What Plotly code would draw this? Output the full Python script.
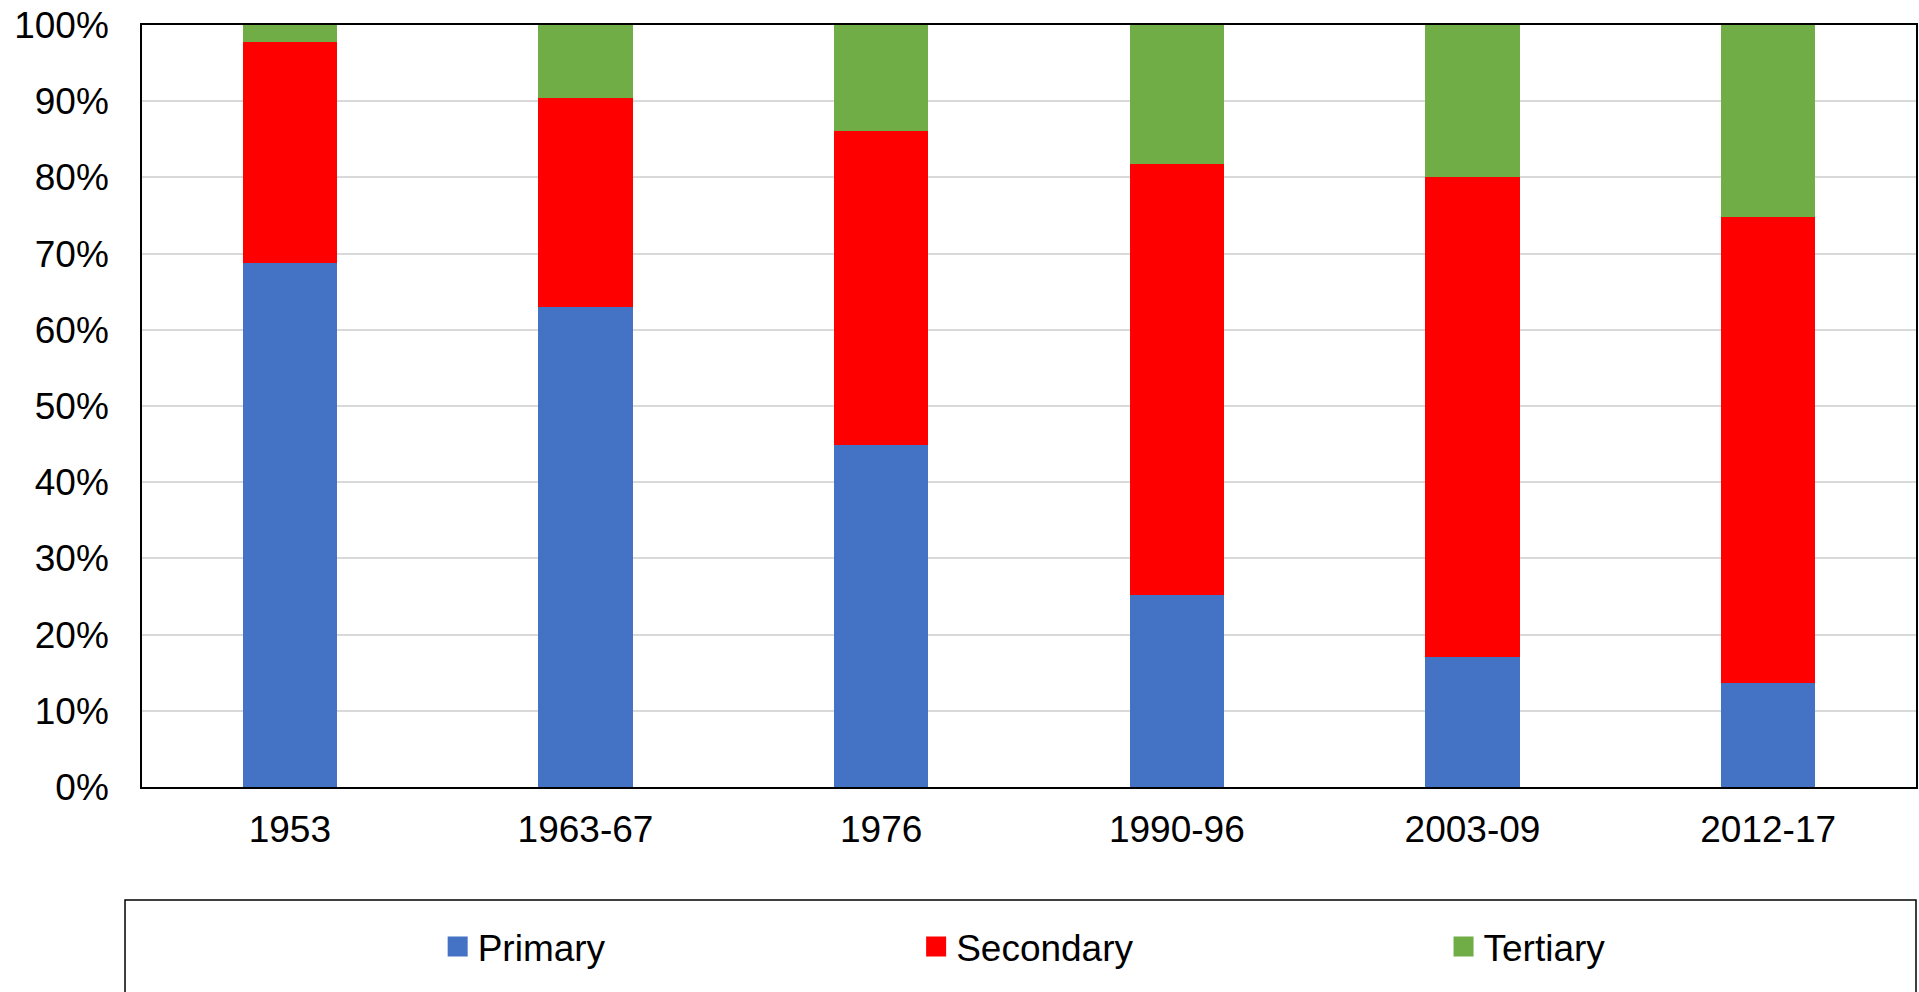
import plotly.graph_objects as go

categories = ["1953", "1963-67", "1976", "1990-96", "2003-09", "2012-17"]
primary = [68.8, 63.0, 44.9, 25.2, 17.0, 13.6]
secondary = [29.0, 27.4, 41.2, 56.5, 63.0, 61.2]
tertiary = [2.2, 9.6, 13.9, 18.3, 20.0, 25.2]
series_names = ["Primary", "Secondary", "Tertiary"]
series_colors = ["#4472C4", "#FF0000", "#70AD47"]
y_ticks = [0, 10, 20, 30, 40, 50, 60, 70, 80, 90, 100]
y_tick_labels = [f"{v}%" for v in y_ticks]

W, H = 1919, 992
L, R, T, B = 142, 1, 25, 205
pw = W - L - R
ph = H - T - B

FONT = "Liberation Sans, Arial, sans-serif"
FS = 37

fig = go.Figure()
values = [primary, secondary, tertiary]
for name, vals, col in zip(series_names, values, series_colors):
    fig.add_trace(go.Bar(
        x=categories, y=vals, name=name, marker_color=col,
        marker_line_width=0, showlegend=False, legendgroup=name,
    ))

# legend entries (one legend each, positioned like the original)
legend_sym_px = [458, 937, 1465]
legend_ids = ["legend", "legend2", "legend3"]
for name, col, lid in zip(series_names, series_colors, legend_ids):
    fig.add_trace(go.Scatter(
        x=[None], y=[None], mode="markers", name=name, legendgroup=name,
        marker=dict(symbol="square", size=16, color=col, line=dict(color=col, width=4)),
        showlegend=True, legend=lid, hoverinfo="skip",
    ))

legend_y = -(947 - (H - B)) / ph
layout_legends = {}
for sx, lid in zip(legend_sym_px, legend_ids):
    layout_legends[lid] = dict(
        x=(sx - 20 - L) / pw, xanchor="left", y=legend_y, yanchor="middle",
        orientation="h", bgcolor="rgba(0,0,0,0)", borderwidth=0,
        font=dict(family=FONT, size=FS, color="#000000"),
    )

fig.update_layout(
    width=W, height=H,
    margin=dict(l=L, r=R, t=T, b=B, pad=0),
    barmode="stack", bargap=0.68,
    plot_bgcolor="#FFFFFF", paper_bgcolor="#FFFFFF",
    font=dict(family=FONT, size=FS, color="#000000"),
    **layout_legends,
)

fig.update_xaxes(
    type="category", showline=True, linecolor="#000000", linewidth=1.5, mirror=True,
    showgrid=False, ticks="", ticklabelstandoff=9,
    tickfont=dict(family=FONT, size=FS, color="#000000"),
)
fig.update_yaxes(
    range=[0, 100], tickvals=y_ticks, ticktext=y_tick_labels,
    showline=True, linecolor="#000000", linewidth=1.5, mirror=True,
    showgrid=True, gridcolor="#D9D9D9", gridwidth=1.5, zeroline=False,
    ticks="", ticklabelstandoff=24,
    tickfont=dict(family=FONT, size=FS, color="#000000"),
)

# legend box border
fig.add_shape(
    type="rect", xref="paper", yref="paper",
    x0=(125 - L) / pw, x1=1.0,
    y0=-(H + 10 - (H - B)) / ph, y1=-(900 - (H - B)) / ph,
    line=dict(color="#000000", width=1.5), fillcolor="rgba(0,0,0,0)", layer="above",
)

fig.write_html(
    "out.html",
    config={"displayModeBar": False},
    post_script="document.body.style.margin='0';",
)
